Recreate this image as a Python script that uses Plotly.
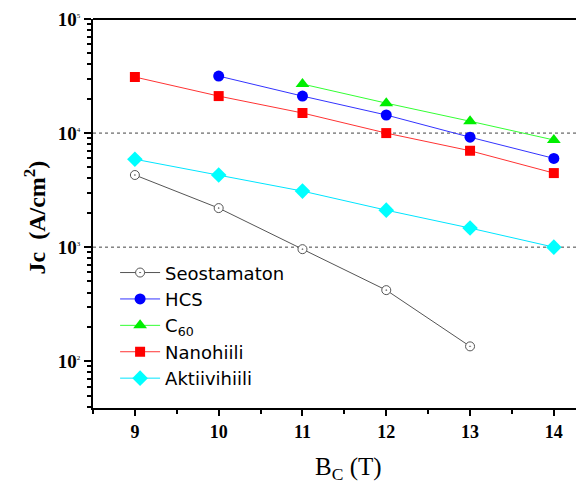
import plotly.graph_objects as go

bc = [9, 10, 11, 12, 13, 14]
seostamaton_x = [9, 10, 11, 12, 13]
seostamaton = [4290, 2200, 960, 420, 135]
hcs_x = [10, 11, 12, 13, 14]
hcs = [31600, 21100, 14400, 9200, 6000]
c60_x = [11, 12, 13, 14]
c60 = [26900, 18300, 12700, 8700]
nanohiili = [31000, 21100, 15000, 10000, 7000, 4460]
aktiivihiili = [5900, 4290, 3100, 2110, 1470, 1000]

x_ticks = [9, 10, 11, 12, 13, 14]
y_ticks = [100, 1000, 10000, 100000]
y_exponents = ["2", "3", "4", "5"]
grid_levels = [1000, 10000]

y_ticktext = [f"<b>10</b><sup><span style='font-size:7px'>{e}</span></sup>" for e in y_exponents]

fig = go.Figure()

def add(name, x, y, color, linecolor, symbol, size=10, open_=False):
    marker = dict(symbol=symbol, size=size, color=color)
    if open_:
        marker = dict(symbol=symbol, size=size, color="white",
                      line=dict(color="#555555", width=1))
    fig.add_trace(go.Scatter(x=x, y=y, name=name, mode="lines+markers",
                             line=dict(color=linecolor, width=1),
                             marker=marker))

add("Seostamaton", seostamaton_x, seostamaton, "black", "#555555", "circle-dot", size=9, open_=True)
add("HCS", hcs_x, hcs, "#0000ff", "#3333ff", "circle", size=11)
add("C<sub>60</sub>", c60_x, c60, "#00ee00", "#33ff33", "triangle-up", size=12)
add("Nanohiili", bc, nanohiili, "#ff0000", "#ff3333", "square", size=10)
add("Aktiivihiili", bc, aktiivihiili, "#00ffff", "#00e5ff", "diamond", size=12)

for lv in grid_levels:
    fig.add_shape(type="line", xref="paper", yref="y", x0=0, x1=1, y0=lv, y1=lv,
                  line=dict(color="#444444", width=1, dash="dot"), layer="below")
# top frame line
fig.add_shape(type="line", xref="paper", yref="paper", x0=0, x1=1, y0=1, y1=1,
              line=dict(color="black", width=2))

minor_y = []
for d in [10, 100, 1000, 10000]:
    for m in range(2, 10):
        minor_y.append(d * m)

fig.update_layout(
    width=576, height=476,
    margin=dict(l=85, r=0, t=11, b=76),
    plot_bgcolor="white", paper_bgcolor="white",
    showlegend=True,
    legend=dict(x=0.045, y=0.395, xanchor="left", yanchor="top",
                font=dict(family="DejaVu Sans", size=18, color="black"),
                bgcolor="rgba(0,0,0,0)", tracegroupgap=0, itemwidth=40),
    xaxis=dict(range=[8.5, 14.36], tickvals=x_ticks, ticktext=[f"<b>{v}</b>" for v in x_ticks],
               showline=True, linecolor="black", linewidth=2, ticks="outside", ticklen=6,
               tickwidth=2, tickcolor="black", showgrid=False, zeroline=False,
               tickfont=dict(family="Liberation Serif", size=18, color="black"),
               minor=dict(tickvals=[8.5, 9.5, 10.5, 11.5, 12.5, 13.5], ticks="outside", ticklen=4,
                          tickwidth=2, tickcolor="black", showgrid=False)),
    yaxis=dict(type="log", range=[1.59, 5], tickvals=y_ticks, ticktext=y_ticktext,
               showline=True, linecolor="black", linewidth=2, ticks="outside", ticklen=7,
               tickwidth=2, tickcolor="black", showgrid=False, zeroline=False,
               tickfont=dict(family="Liberation Serif", size=19, color="black"),
               minor=dict(tickvals=minor_y, ticks="outside", ticklen=4, tickwidth=2,
                          tickcolor="black", showgrid=False)),
)

fig.add_annotation(xref="paper", yref="paper", x=0.52, y=-0.156, yanchor="middle",
                   text="B<sub>C</sub> (T)", showarrow=False,
                   font=dict(family="Liberation Serif", size=25, color="black"))
fig.add_annotation(xref="paper", yref="paper", x=-0.118, y=0.49, xanchor="center",
                   yanchor="middle", textangle=-90,
                   text="<b>Jc  (A/cm<sup>2</sup>)</b>", showarrow=False,
                   font=dict(family="Liberation Serif", size=24, color="black"))

fig.write_html("out.html")
